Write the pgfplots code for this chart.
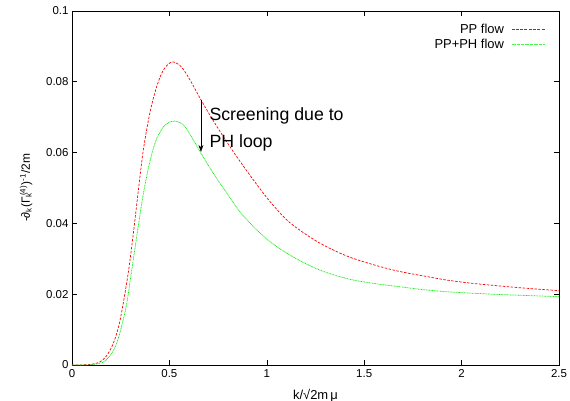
\documentclass[border=0pt]{standalone}
\usepackage{fontspec}
\setmainfont{Liberation Sans}
\usepackage{pgfplots}
\pgfplotsset{compat=1.18}
\usetikzlibrary{arrows.meta}
\definecolor{ppred}{RGB}{255,0,0}
\definecolor{ppgreen}{RGB}{0,240,0}
\begin{document}
\begin{tikzpicture}
\begin{axis}[
  scale only axis,
  width=487bp, height=354bp,
  xmin=0, xmax=2.5, ymin=0, ymax=0.1,
  xtick={0,0.5,1,1.5,2,2.5},
  ytick={0,0.02,0.04,0.06,0.08,0.1},
  xticklabels={0,0.5,1,1.5,2,2.5},
  yticklabels={0,0.02,0.04,0.06,0.08,0.1},
  tick align=inside,
  major tick length=5bp,
  minor tick num=0,
  axis line style={black, line width=0.8pt},
  every tick/.style={black, line width=0.6pt},
  tick label style={font=\fontsize{11.5}{13}\selectfont},
  xticklabel style={yshift=-1bp},
  /pgf/number format/assume math mode=true,
  xlabel={k/√2m\,μ},
  ylabel={-∂\textsubscript{k}(Γ\rlap{\textsubscript{k}}\textsuperscript{\,(4)})\textsuperscript{-1}/2m},
  xlabel style={font=\fontsize{13}{15}\selectfont, yshift=-5bp},
  ylabel style={font=\fontsize{12}{14}\selectfont, yshift=7bp},
  legend style={draw=none, fill=none, at={(rel axis cs:0.972,0.969)}, anchor=north east,
    font=\fontsize{13}{15}\selectfont, row sep=0bp, column sep=5bp, inner sep=0pt},
  legend cell align=right,
  legend plot pos=right,
]
\addplot[ppred, line width=0.7pt, dash pattern=on 2.5pt off 1.5pt, smooth, tension=0.5,
  legend image code/.code={\draw[red, line width=1.2pt, dash pattern=on 3pt off 1.3pt] (0bp,0bp) -- (33bp,0bp);}] coordinates {
(0,0) (0.05,0.00002) (0.1,0.0002) (0.144,0.0009) (0.18,0.0028) (0.212,0.0061) (0.24,0.0110) (0.263,0.0174) (0.29,0.0265) (0.315,0.0372) (0.34,0.0490) (0.366,0.0607) (0.40,0.0713) (0.435,0.0787) (0.47,0.0834) (0.513,0.0856) (0.56,0.0843) (0.606,0.0805) (0.662,0.0749) (0.72,0.0695) (0.777,0.0645) (0.85,0.0585) (0.931,0.0523) (1.01,0.0466) (1.102,0.0410) (1.19,0.0373) (1.273,0.0344) (1.36,0.0320) (1.444,0.0301) (1.581,0.0278) (1.684,0.0264) (1.80,0.0252) (1.923,0.0240) (2.05,0.0231) (2.2,0.0223) (2.35,0.0216) (2.5,0.0210)
};
\addlegendentry{PP flow}
\addplot[ppgreen, line width=0.7pt, dash pattern=on 0.9pt off 0.7pt, smooth, tension=0.5,
  legend image code/.code={\draw[ppgreen!70!white, line width=1.1pt, dash pattern=on 1pt off 0.3pt] (0bp,0bp) -- (33bp,0bp);}] coordinates {
(0,0) (0.05,0.00001) (0.1,0.0001) (0.16,0.0008) (0.2,0.0030) (0.229,0.0061) (0.255,0.0110) (0.281,0.0174) (0.305,0.0262) (0.332,0.0362) (0.365,0.0480) (0.40,0.0575) (0.435,0.0640) (0.48,0.0679) (0.525,0.0689) (0.57,0.0679) (0.61,0.0648) (0.657,0.0603) (0.71,0.0555) (0.76,0.0513) (0.802,0.0480) (0.86,0.0434) (0.931,0.0391) (1.01,0.0351) (1.102,0.0316) (1.19,0.0289) (1.273,0.0268) (1.36,0.0252) (1.444,0.0240) (1.581,0.0228) (1.684,0.0221) (1.80,0.0213) (1.923,0.0207) (2.05,0.0203) (2.2,0.0199) (2.35,0.0196) (2.5,0.0193)
};
\addlegendentry{PP+PH flow}
\draw[-{Stealth[length=7bp,width=5bp]}, black, line width=0.6pt] (axis cs:0.662,0.0749) -- (axis cs:0.662,0.0602);
\node[anchor=west, align=left, font=\fontsize{17.8}{27}\selectfont, inner sep=0pt] at (axis cs:0.705,0.0665) {Screening due to\\PH loop};
\end{axis}
\pgfresetboundingbox
\path ([shift={(-72bp,-36bp)}]current axis.south west) rectangle ([shift={(11bp,11bp)}]current axis.north east);
\end{tikzpicture}
\end{document}
